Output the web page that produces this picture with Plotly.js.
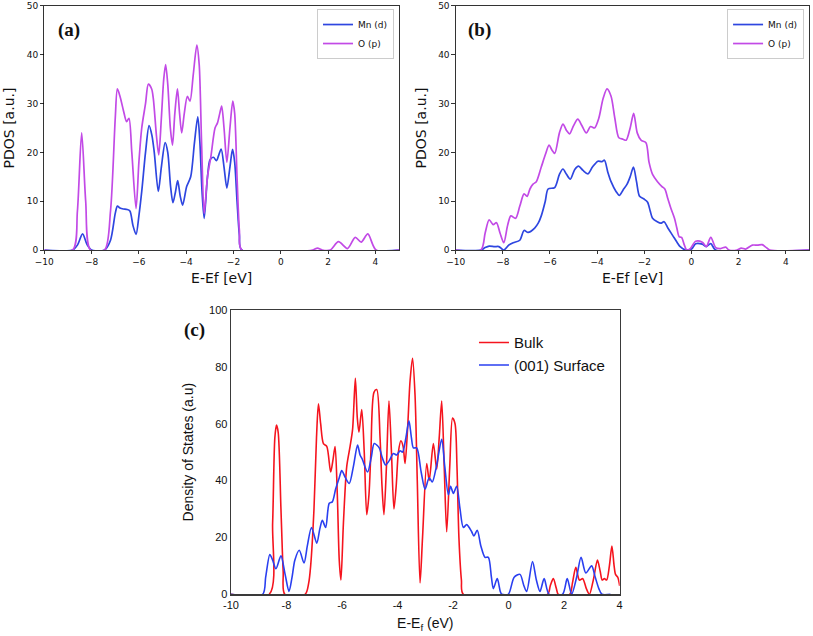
<!DOCTYPE html>
<html>
<head>
<meta charset="utf-8">
<script src="https://cdn.plot.ly/plotly-3.0.1.min.js"></script>
<style>html,body{margin:0;padding:0;background:#fff;}#chart{width:813px;height:636px;}</style>
</head>
<body>
<div id="chart"></div>
<script>
// ---------- Panel (a) ----------
const aMnX = [-10,-8.8,-8.6,-8.38,-8.2,-8.0,-7.45,-7.2,-7.0,-6.91,-6.8,-6.66,-6.5,-6.38,-6.25,-6.12,-6.0,-5.88,-5.72,-5.57,-5.45,-5.35,-5.18,-5.05,-4.89,-4.78,-4.66,-4.56,-4.45,-4.36,-4.25,-4.15,-3.98,-3.81,-3.65,-3.51,-3.42,-3.33,-3.24,-3.1,-2.99,-2.85,-2.72,-2.62,-2.52,-2.4,-2.28,-2.15,-2.04,-1.95,-1.85,-1.75,-1.65,5];
const aMnY = [0,0,1,3.3,1.2,0,0,2,7.5,9,8.6,8.4,8.3,8,5,3.2,7,12,20,25.5,23.5,20,12,17,22,20,13,9.7,12,14.2,11,9.2,13,15,22,27.3,22,12,6.5,15,18.5,19,18.3,19.5,20.7,17,12.7,17,20.6,18,10,3,0,0];
const aOX = [-10,-8.8,-8.6,-8.42,-8.25,-8.05,-7.45,-7.2,-7.0,-6.91,-6.8,-6.65,-6.52,-6.42,-6.3,-6.12,-6.0,-5.88,-5.72,-5.6,-5.46,-5.39,-5.25,-5.16,-5.05,-4.95,-4.87,-4.78,-4.67,-4.58,-4.48,-4.37,-4.28,-4.19,-4.08,-3.95,-3.84,-3.7,-3.55,-3.45,-3.35,-3.24,-3.1,-2.96,-2.78,-2.68,-2.58,-2.5,-2.4,-2.28,-2.15,-2.03,-1.95,-1.85,-1.75,-1.65,1.35,1.55,1.75,2.09,2.44,2.82,3.15,3.4,3.68,4.03,5];
const aOY = [0,0,8,24,10,0,0,8,27,33,31.5,28.5,26.3,27,20,8.5,18,25,30,34,33,31,23,19.5,27,35,38,34,25,21.5,28,33,28,24,28,31.5,30.5,36,42,38,22,7.5,15,19,25,26,28,29.5,25,18,25,30.5,28,15,4,0,0,0.4,0,0,1.7,0.3,2.6,1.6,3.3,0,0];

// ---------- Panel (b) ----------
const bMnX = [-10,-8.93,-8.75,-8.58,-8.35,-8.17,-7.96,-7.75,-7.56,-7.28,-7.1,-6.93,-6.65,-6.5,-6.37,-6.2,-6.08,-5.8,-5.6,-5.45,-5.3,-5.14,-4.95,-4.79,-4.6,-4.39,-4.2,-3.97,-3.8,-3.69,-3.55,-3.41,-3.2,-3.06,-2.9,-2.73,-2.6,-2.46,-2.33,-2.2,-2.0,-1.86,-1.75,-1.65,-1.45,-1.3,-1.16,-1.0,-0.8,-0.6,-0.48,-0.24,0.0,0.18,0.46,0.62,0.82,1.03,5];
const bMnY = [0,0,0.5,0.8,0.7,0.7,0,1,1.5,2,4,3.6,4.5,5.5,7,10,12.5,12.8,15.5,16.6,15.5,14.5,16.5,17.2,16.3,15.6,17,18.2,18.1,18.4,16,14,12,11.2,12.3,13.5,15,17,14,11,10.4,9.8,8,6.5,5.8,5.5,5.8,4.5,3,1.5,0.7,0,0.2,1.3,1.2,0.7,1.3,0,0];
const bOX = [-10,-8.93,-8.75,-8.58,-8.41,-8.27,-8.12,-7.96,-7.8,-7.66,-7.46,-7.28,-7.1,-6.97,-6.85,-6.72,-6.58,-6.37,-6.2,-6.04,-5.92,-5.8,-5.6,-5.45,-5.3,-5.17,-5.0,-4.82,-4.65,-4.46,-4.28,-4.11,-3.93,-3.75,-3.58,-3.41,-3.25,-3.08,-2.9,-2.77,-2.6,-2.45,-2.3,-2.14,-1.93,-1.8,-1.65,-1.44,-1.25,-1.13,-1.0,-0.87,-0.72,-0.62,-0.52,-0.42,-0.3,-0.2,-0.05,0.18,0.46,0.63,0.82,1.03,1.24,1.45,1.59,1.94,2.11,2.3,2.58,2.8,3.0,3.15,3.32,5];
const bOY = [0,0,3.5,6.2,5.2,5.6,3.5,1.5,5,7,6.5,9,11.5,11,12.5,13.5,14,17,19.5,21.5,20.5,19.8,24,25.8,24.5,23.8,25.5,26.8,25.5,24,25.3,25,27,31,33,31.5,27,23,22.7,22.5,25,28,24,22.5,22,18,15.5,14,13,12.5,10.5,8.5,6.5,4.5,2.7,2.6,1,0,0.3,1.8,1.6,0.7,2.6,0.5,0.3,0.6,0,0,0.4,0.2,1.0,1.0,1.1,0.6,0,0];

// ---------- Panel (c) ----------
const cBulkX = [-10,-8.62,-8.5,-8.42,-8.36,-8.3,-8.2,-8.12,-8.06,-7.33,-7.2,-7.13,-7.01,-6.92,-6.85,-6.77,-6.67,-6.55,-6.41,-6.33,-6.25,-6.17,-6.1,-6.04,-5.95,-5.83,-5.71,-5.62,-5.52,-5.45,-5.39,-5.29,-5.2,-5.11,-5.03,-4.96,-4.85,-4.75,-4.63,-4.56,-4.49,-4.4,-4.31,-4.22,-4.13,-4.05,-3.97,-3.88,-3.8,-3.73,-3.64,-3.55,-3.46,-3.37,-3.29,-3.19,-3.1,-2.95,-2.86,-2.71,-2.59,-2.5,-2.41,-2.32,-2.23,-2.12,-2.02,-1.93,-1.86,-1.79,-1.7,-1.63,1.4,1.5,1.61,1.72,1.79,2.2,2.3,2.42,2.55,2.67,2.8,2.91,3.05,3.2,3.3,3.37,3.45,3.53,3.63,3.72,3.8,3.85,3.93,4.0];
const cBulkY = [0,0,25,55,59.5,57,30,8,0,0,4,10,30,55,67,60,53,52,43,47,52,35,12,5,25,45,52,58,76,62,57,65,50,28,35,50,71,72,55,38,28,45,68,50,30,38,50,54,52,46,58,75,83,70,40,4,20,46,40,53,44,55,68,45,22,45,62,60,45,20,5,0,0,3,5.5,2,0,0,4,9.5,5,5.5,2,0,5,12,8,5,5.5,5,10,17,10,7,6,3];
const cSurfX = [-10,-8.86,-8.75,-8.6,-8.5,-8.38,-8.2,-8.05,-7.91,-7.8,-7.7,-7.54,-7.37,-7.25,-7.1,-6.91,-6.8,-6.71,-6.59,-6.46,-6.35,-6.23,-6.1,-6.01,-5.88,-5.74,-5.59,-5.44,-5.35,-5.27,-5.08,-4.95,-4.84,-4.66,-4.55,-4.43,-4.3,-4.15,-4.03,-3.91,-3.82,-3.7,-3.59,-3.5,-3.43,-3.31,-3.15,-3.01,-2.86,-2.75,-2.6,-2.41,-2.3,-2.17,-2.09,-1.99,-1.87,-1.75,-1.63,-1.51,-1.33,-1.25,-1.13,-1.0,-0.85,-0.73,-0.62,-0.55,-0.41,-0.3,-0.25,-0.01,0.2,0.41,0.55,0.65,0.86,1.0,1.13,1.28,1.46,1.94,2.11,2.27,2.45,2.61,2.78,2.99,3.12,3.25,3.36,3.67];
const cSurfY = [0,0,6,14,12,9,13.5,7,1,6,12,15.5,11,17,23.5,18,23,26,23.5,32,32.5,37,41,43.5,41,39,45,52.5,49,47.5,43,48,53,51.5,48,45.5,47,49.5,49,50.5,50,55,61,55,51.5,51.5,43,37,41,39.5,45,54.5,45,35,38,35.5,38,30,23.5,24.5,22,20.5,22.5,17,13,13,6,2,5.5,1,0,0,6,7,3,1,11.5,5,1,5.5,0,0,5.5,0,6,13,7.5,10,6,2,0,0];

// tick labels
const abTickVals = [-10,-8,-6,-4,-2,0,2,4];
const abTickText = ["\u221210","\u22128","\u22126","\u22124","\u22122","0","2","4"];
const abYTickVals = [0,10,20,30,40,50];
const cTickVals = [-10,-8,-6,-4,-2,0,2,4];
const cTickText = ["-10","-8","-6","-4","-2","0","2","4"];
const cYTickVals = [0,20,40,60,80,100];

const colMn = '#2e46e0', colO = '#c24ae6', colBulk = '#f5141e', colSurf = '#2a3ff0';
const dv = 'DejaVu Sans', ar = 'Liberation Sans, Arial';

function tr(x, y, name, color, xa, ya, leg, w) {
  return {x: x, y: y, name: name, type: 'scatter', mode: 'lines', xaxis: xa, yaxis: ya, legend: leg,
    line: {color: color, width: w, shape: 'spline', smoothing: 0.8}, hoverinfo: 'skip'};
}

const data = [
  tr(aMnX, aMnY, 'Mn (d)', colMn, 'x', 'y', 'legend', 1.7),
  tr(aOX, aOY, 'O (p)', colO, 'x', 'y', 'legend', 1.7),
  tr(bMnX, bMnY, 'Mn (d)', colMn, 'x2', 'y2', 'legend2', 1.7),
  tr(bOX, bOY, 'O (p)', colO, 'x2', 'y2', 'legend2', 1.7),
  tr(cBulkX, cBulkY, 'Bulk', colBulk, 'x3', 'y3', 'legend3', 1.6),
  tr(cSurfX, cSurfY, '(001) Surface', colSurf, 'x3', 'y3', 'legend3', 1.6)
];

function abX(dom, anchor) {
  return {domain: dom, anchor: anchor, range: [-10, 5], tickmode: 'array', tickvals: abTickVals, ticktext: abTickText,
    ticks: 'outside', ticklen: 3.5, tickwidth: 0.8, tickcolor: '#000', showline: true, linecolor: '#000', linewidth: 0.8, mirror: true,
    showgrid: false, zeroline: false, tickfont: {family: dv, size: 9, color: '#111'},
    title: {text: 'E-Ef [eV]', font: {family: dv, size: 14, color: '#111'}, standoff: 6}};
}
function abY(dom, anchor) {
  return {domain: dom, anchor: anchor, range: [0, 50], tickmode: 'array', tickvals: abYTickVals,
    ticks: 'outside', ticklen: 3.5, tickwidth: 0.8, tickcolor: '#000', showline: true, linecolor: '#000', linewidth: 0.8, mirror: true,
    showgrid: false, zeroline: false, tickfont: {family: dv, size: 9, color: '#111'},
    title: {text: 'PDOS [a.u.]', font: {family: dv, size: 14, color: '#111'}, standoff: 8}};
}

const layout = {
  width: 813, height: 636, margin: {l: 0, r: 0, t: 0, b: 0},
  paper_bgcolor: '#fff', plot_bgcolor: '#fff',
  xaxis: abX([0.0545, 0.4908], 'y'),
  yaxis: abY([0.6069, 0.9906], 'x'),
  xaxis2: abX([0.5605, 0.9955], 'y2'),
  yaxis2: abY([0.6069, 0.9906], 'x2'),
  xaxis3: {domain: [0.2841, 0.7622], anchor: 'y3', range: [-10, 4], tickmode: 'array', tickvals: cTickVals, ticktext: cTickText,
    ticks: '', showline: true, linecolor: '#3a3a3a', linewidth: 1.3, mirror: true, showgrid: false, zeroline: false,
    tickfont: {family: ar, size: 11, color: '#111'},
    title: {text: 'E-E<sub>f</sub> (eV)', font: {family: ar, size: 14, color: '#111'}, standoff: 8}},
  yaxis3: {domain: [0.0656, 0.5126], anchor: 'x3', range: [0, 100], tickmode: 'array', tickvals: cYTickVals,
    ticks: '', showline: true, linecolor: '#3a3a3a', linewidth: 1.3, mirror: true, showgrid: false, zeroline: false,
    tickfont: {family: ar, size: 11, color: '#111'},
    title: {text: 'Density of States (a.u)', font: {family: ar, size: 14, color: '#111'}, standoff: 12}},
  legend: {x: 0.4846, xanchor: 'right', y: 0.9858, yanchor: 'top', bgcolor: '#fff', bordercolor: '#cccccc', borderwidth: 1,
    font: {family: dv, size: 9, color: '#111'}, itemwidth: 30, tracegroupgap: 0},
  legend2: {x: 0.989, xanchor: 'right', y: 0.9858, yanchor: 'top', bgcolor: '#fff', bordercolor: '#cccccc', borderwidth: 1,
    font: {family: dv, size: 9, color: '#111'}, itemwidth: 30, tracegroupgap: 0},
  legend3: {x: 0.583, xanchor: 'left', y: 0.487, yanchor: 'top', bgcolor: 'rgba(0,0,0,0)', borderwidth: 0,
    font: {family: ar, size: 15, color: '#111'}, itemwidth: 30, tracegroupgap: 0},
  annotations: [
    {text: '<b>(a)</b>', xref: 'paper', yref: 'paper', x: 68.5/813, y: 1 - 29.5/636, xanchor: 'center', yanchor: 'middle', showarrow: false,
      font: {family: 'Liberation Serif, Times New Roman', size: 19, color: '#111'}},
    {text: '<b>(b)</b>', xref: 'paper', yref: 'paper', x: 479/813, y: 1 - 30/636, xanchor: 'center', yanchor: 'middle', showarrow: false,
      font: {family: 'Liberation Serif, Times New Roman', size: 19, color: '#111'}},
    {text: '<b>(c)</b>', xref: 'paper', yref: 'paper', x: 194/813, y: 1 - 330/636, xanchor: 'center', yanchor: 'middle', showarrow: false,
      font: {family: 'Liberation Serif, Times New Roman', size: 19, color: '#111'}}
  ]
};

Plotly.newPlot('chart', data, layout, {staticPlot: true, displayModeBar: false});
</script>
</body>
</html>
